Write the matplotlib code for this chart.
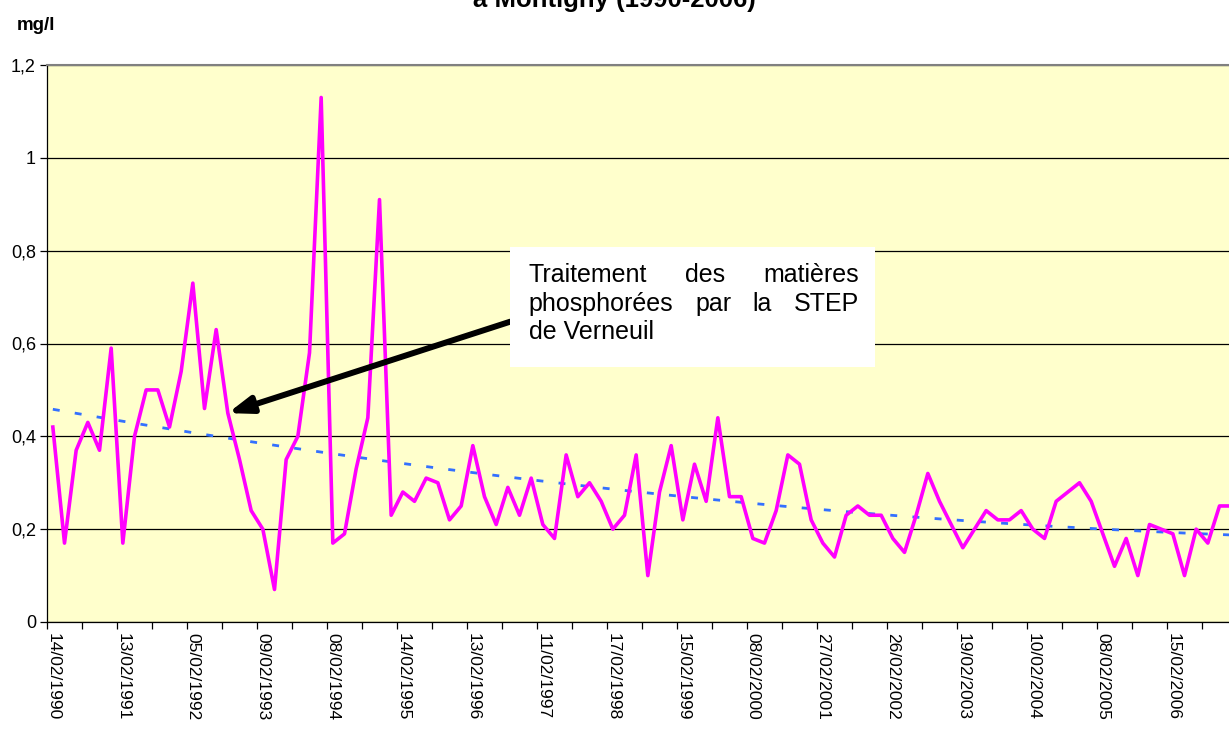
import matplotlib
matplotlib.use('Agg')
import matplotlib.pyplot as plt
from matplotlib.patches import Rectangle
import numpy as np

# phosphates (mg/l), one sample every two months from feb. 1990
values = [0.42, 0.17, 0.37, 0.43, 0.37, 0.59, 0.17, 0.40, 0.50, 0.50, 0.42, 0.54,
          0.73, 0.46, 0.63, 0.45, 0.35, 0.24, 0.20, 0.07, 0.35, 0.40, 0.58, 1.13,
          0.17, 0.19, 0.33, 0.44, 0.91, 0.23, 0.28, 0.26, 0.31, 0.30, 0.22, 0.25,
          0.38, 0.27, 0.21, 0.29, 0.23, 0.31, 0.21, 0.18, 0.36, 0.27, 0.30, 0.26,
          0.20, 0.23, 0.36, 0.10, 0.28, 0.38, 0.22, 0.34, 0.26, 0.44, 0.27, 0.27,
          0.18, 0.17, 0.24, 0.36, 0.34, 0.22, 0.17, 0.14, 0.23, 0.25, 0.23, 0.23,
          0.18, 0.15, 0.23, 0.32, 0.26, 0.21, 0.16, 0.20, 0.24, 0.22, 0.22, 0.24,
          0.20, 0.18, 0.26, 0.28, 0.30, 0.26, 0.19, 0.12, 0.18, 0.10, 0.21, 0.20,
          0.19, 0.10, 0.20, 0.17, 0.25, 0.25]

date_labels = ['14/02/1990', '13/02/1991', '05/02/1992', '09/02/1993', '08/02/1994',
               '14/02/1995', '13/02/1996', '11/02/1997', '17/02/1998', '15/02/1999',
               '08/02/2000', '27/02/2001', '26/02/2002', '19/02/2003', '10/02/2004',
               '08/02/2005', '15/02/2006']

y_labels = ['0', '0,2', '0,4', '0,6', '0,8', '1', '1,2']

plt.rcParams['font.family'] = ['Liberation Sans', 'DejaVu Sans']

W, H = 1229, 729
fig = plt.figure(figsize=(W / 100, H / 100), dpi=100)
ax = fig.add_axes([47 / W, 107 / H, 1190 / W, 557 / H])
ax.set_facecolor('#ffffcc')

x = np.arange(len(values))
ax.plot(x, values, color='#ff00ff', lw=2.6, zorder=3)

# trend curve (2nd order polynomial)
p = np.polyfit(x, values, 2)
ax.plot(x, np.polyval(p, x), color='#3370ff', lw=2.0, dashes=(2.5, 5.5), zorder=2)

ax.set_xlim(-0.5, len(values) - 0.5)
ax.set_ylim(0, 1.2)
ax.set_yticks(np.linspace(0, 1.2, 7))
ax.set_yticklabels(y_labels, fontsize=13)
ax.yaxis.grid(True, color='black', lw=0.9)
ax.set_axisbelow(True)
ax.tick_params(axis='y', length=5, width=0.9, pad=3)

ax.set_xticks(np.arange(0, len(values), 6))
ax.set_xticklabels(date_labels, rotation=-90, fontsize=12.5)
ax.set_xticks(np.arange(-0.5, len(values), 3), minor=True)
ax.tick_params(axis='x', which='major', length=0, pad=8)
ax.tick_params(axis='x', which='minor', length=5, width=0.9)

ax.spines['top'].set_color('#808080')
ax.spines['top'].set_linewidth(1.5)
ax.spines['right'].set_visible(False)
for s in ('left', 'bottom'):
    ax.spines[s].set_linewidth(0.9)

# comment box with arrow
ax.add_patch(Rectangle((39.2, 0.55), 31.3, 0.258, facecolor='white',
                       edgecolor='none', zorder=5))
ax.annotate('', xy=(15.0, 0.45), xytext=(39.2, 0.647),
            arrowprops=dict(arrowstyle='-|>,head_length=1.4,head_width=0.5',
                            color='black', lw=4.3, shrinkA=0, shrinkB=0,
                            mutation_scale=10),
            zorder=4)

lines = [['Traitement', 'des', 'matières'],
         ['phosphorées', 'par', 'la', 'STEP'],
         ['de Verneuil']]
baselines = [0.733, 0.671, 0.609]
x_left, x_right = 40.8, 69.1

fig.canvas.draw()
renderer = fig.canvas.get_renderer()
for words, yb in zip(lines, baselines):
    texts = [ax.text(x_left, yb, w, fontsize=18, va='baseline', zorder=6)
             for w in words]
    if len(words) == 1:
        continue
    widths = [t.get_window_extent(renderer).width for t in texts]
    p0 = ax.transData.transform((x_left, yb))[0]
    p1 = ax.transData.transform((x_right, yb))[0]
    gap = (p1 - p0 - sum(widths)) / (len(words) - 1)
    pos = p0
    for t, w in zip(texts, widths):
        t.set_x(ax.transData.inverted().transform((pos, 0))[0])
        pos += w + gap

fig.text(17 / W, 1 - 30 / H, 'mg/l', fontsize=13.5, weight='bold', va='baseline')
fig.text(0.5, 1 - 7 / H, 'à Montigny (1990-2006)', fontsize=18.5,
         weight='bold', ha='center', va='baseline')

fig.savefig('out.png', dpi=100)
